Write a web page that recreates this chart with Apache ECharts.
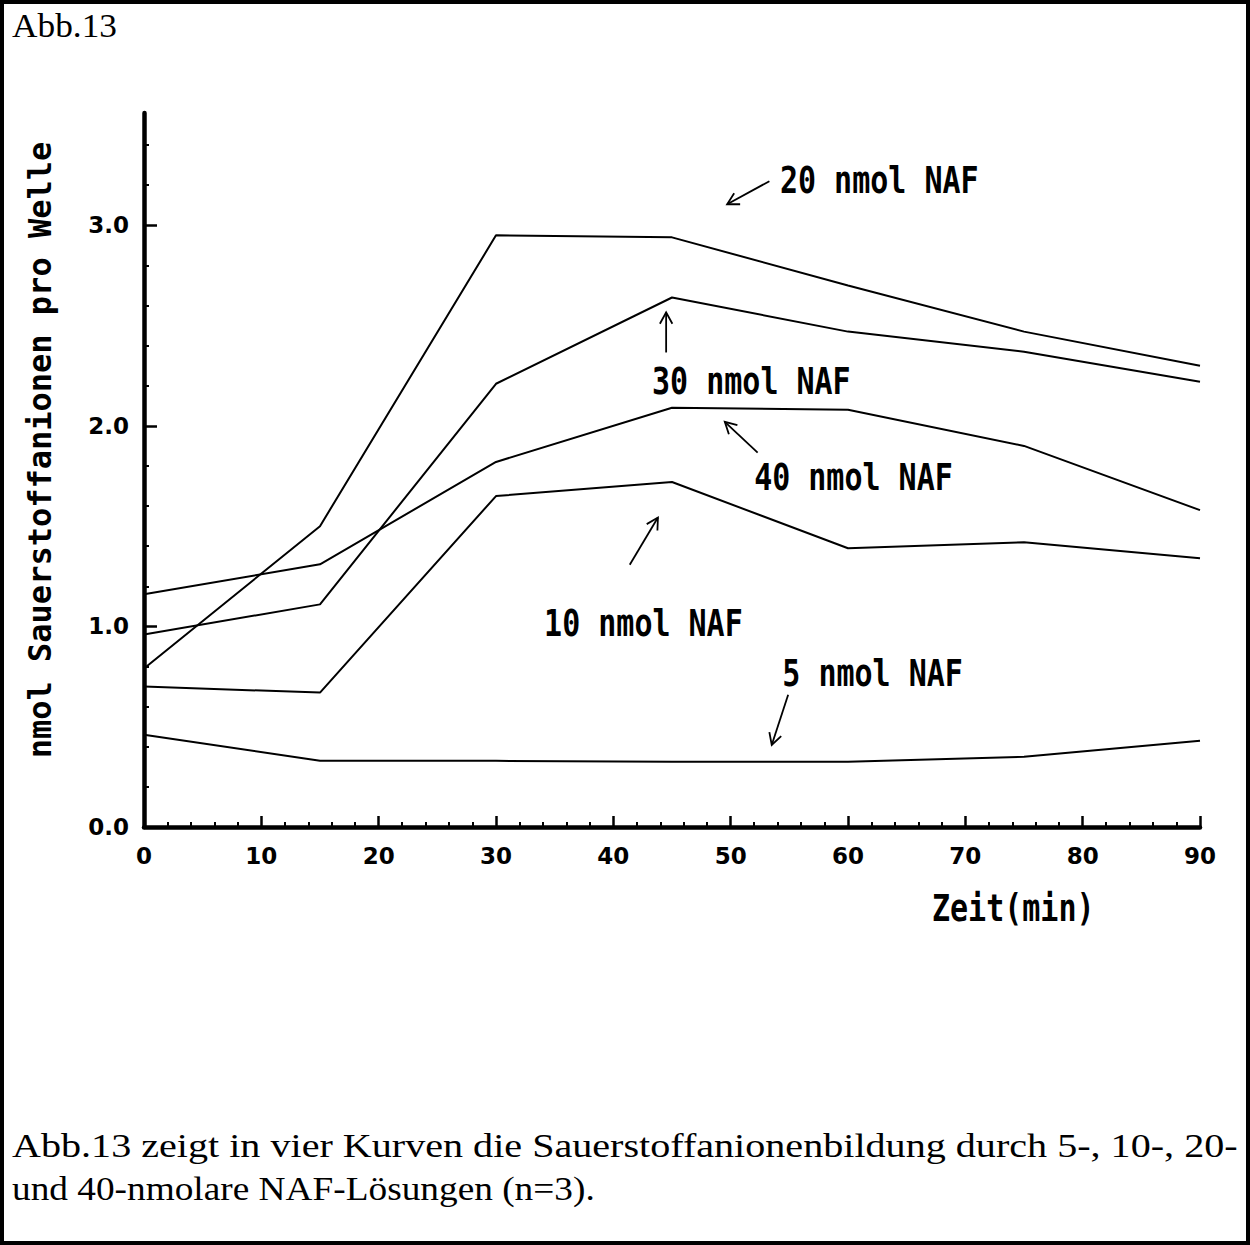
<!DOCTYPE html>
<html><head><meta charset="utf-8">
<script src="https://cdn.jsdelivr.net/npm/echarts@6/dist/echarts.min.js"></script>
<style>html,body{margin:0;padding:0;background:#fff}#c{width:1250px;height:1245px}</style>
</head><body><div id="c"></div>
<script>
// ---- data ----
const times  = [0, 15, 30, 45, 60, 75, 90];
const nmol20 = [0.79, 1.50, 2.95, 2.94, 2.70, 2.47, 2.30];
const nmol30 = [0.96, 1.11, 2.21, 2.64, 2.47, 2.37, 2.22];
const nmol40 = [1.16, 1.31, 1.82, 2.09, 2.08, 1.90, 1.58];
const nmol10 = [0.70, 0.67, 1.65, 1.72, 1.39, 1.42, 1.34];
const nmol5  = [0.46, 0.33, 0.33, 0.325, 0.325, 0.35, 0.43];
const yMajorTicks = [0, 1, 2, 3];
const seriesNames = ['20 nmol NAF', '30 nmol NAF', '40 nmol NAF', '10 nmol NAF', '5 nmol NAF'];
// annotation anchors in data coordinates (min, value)
const labelAnchors = [[54.2, 3.225], [43.3, 2.22], [52.0, 1.742], [34.1, 1.013], [54.4, 0.764]];
const arrowFrom    = [[53.3, 3.22], [44.5, 2.366], [52.3, 1.867], [41.4, 1.308], [54.9, 0.659]];
const arrowTo      = [[49.7, 3.105], [44.5, 2.566], [49.5, 2.02], [43.8, 1.543], [53.5, 0.409]];
const titleText = 'Abb.13';
const captionLines = [
  'Abb.13 zeigt in vier Kurven die Sauerstoffanionenbildung durch 5-, 10-, 20-',
  'und 40-nmolare NAF-Lösungen (n=3).'
];
const xAxisTitle = 'Zeit(min)';
const yAxisTitle = 'nmol Sauerstoffanionen pro Welle';

// ---- helpers ----
const mono = '"DejaVu Sans Mono", "Liberation Mono", monospace';
const serifFont = '33px "Liberation Serif", "Times New Roman", serif';
const ctx = document.createElement('canvas').getContext('2d');
function widthOf(text, font) { ctx.font = font; return ctx.measureText(text).width; }
const pairs = arr => times.map((t, i) => [t, arr[i]]);
const allSeries = [nmol20, nmol30, nmol40, nmol10, nmol5];

const chart = echarts.init(document.getElementById('c'), null, {renderer: 'svg'});

const captionTargets = [1226, 583];
const captionY = [1146, 1189];

chart.setOption({
  animation: false,
  backgroundColor: '#fff',
  grid: {left: 144, right: 50, top: 113, bottom: 418},
  xAxis: {
    type: 'value', min: 0, max: 90, interval: 10,
    axisLine: {lineStyle: {color: '#000', width: 4.5}},
    axisTick: {inside: true, length: 11, lineStyle: {color: '#000', width: 2.5}},
    minorTick: {show: true, splitNumber: 5, length: 5, lineStyle: {color: '#000', width: 2}},
    axisLabel: {color: '#000', fontFamily: '"DejaVu Sans"', fontWeight: 'bold', fontSize: 23, margin: 17},
    splitLine: {show: false}, minorSplitLine: {show: false}
  },
  yAxis: {
    type: 'value', min: 0, max: 3.56, interval: 1,
    axisLine: {show: true, lineStyle: {color: '#000', width: 4.5}},
    axisTick: {show: true, inside: true, length: 13, customValues: yMajorTicks, lineStyle: {color: '#000', width: 2.5}},
    minorTick: {show: true, splitNumber: 5, length: 5, lineStyle: {color: '#000', width: 2}},
    axisLabel: {color: '#000', fontFamily: '"DejaVu Sans"', fontWeight: 'bold', fontSize: 23, margin: 15,
      customValues: yMajorTicks, formatter: v => Number(v).toFixed(1)},
    splitLine: {show: false}, minorSplitLine: {show: false}
  },
  series: [
    ...allSeries.map((arr, i) => ({
      name: seriesNames[i], type: 'line', data: pairs(arr), symbol: 'none',
      lineStyle: {color: '#000', width: 2}, silent: true
    })),
    {
      type: 'custom', name: 'arrows', silent: true, clip: false,
      data: arrowFrom.map((f, i) => [f[0], f[1], arrowTo[i][0], arrowTo[i][1]]),
      renderItem(params, api) {
        const p0 = api.coord([api.value(0), api.value(1)]);
        const p1 = api.coord([api.value(2), api.value(3)]);
        const ang = Math.atan2(p1[1] - p0[1], p1[0] - p0[0]);
        const L = 13, a = 0.5;
        const h1 = [p1[0] - L * Math.cos(ang - a), p1[1] - L * Math.sin(ang - a)];
        const h2 = [p1[0] - L * Math.cos(ang + a), p1[1] - L * Math.sin(ang + a)];
        return {type: 'group', children: [
          {type: 'line', shape: {x1: p0[0], y1: p0[1], x2: p1[0], y2: p1[1]}, style: {stroke: '#000', lineWidth: 1.8}},
          {type: 'polyline', shape: {points: [h1, p1, h2]}, style: {stroke: '#000', lineWidth: 1.8, fill: null}}
        ]};
      }
    },
    {
      type: 'custom', name: 'labels', silent: true, clip: false,
      data: labelAnchors.map(a => [a[0], a[1]]),
      renderItem(params, api) {
        const p = api.coord([api.value(0), api.value(1)]);
        return {type: 'text', x: p[0], y: p[1], scaleY: 1.22,
          style: {text: seriesNames[params.dataIndex], font: 'bold 30px ' + mono, fill: '#000',
                  align: 'left', verticalAlign: 'middle'}};
      }
    }
  ],
  graphic: [
    {type: 'rect', shape: {x: 2, y: 2, width: 1246, height: 1241}, style: {fill: null, stroke: '#000', lineWidth: 4}, silent: true},
    {type: 'text', x: 12, y: 26, scaleX: 105 / widthOf(titleText, serifFont),
      style: {text: titleText, font: serifFont, fill: '#000', align: 'left', verticalAlign: 'middle'}},
    ...captionLines.map((t, i) => ({type: 'text', x: 12, y: captionY[i],
      scaleX: captionTargets[i] / widthOf(t, serifFont),
      style: {text: t, font: serifFont, fill: '#000', align: 'left', verticalAlign: 'middle'}})),
    {type: 'text', x: 932, y: 908, scaleY: 1.27,
      style: {text: xAxisTitle, font: 'bold 30px ' + mono, fill: '#000', align: 'left', verticalAlign: 'middle'}},
    {type: 'text', x: 40, y: 450, rotation: Math.PI / 2,
      style: {text: yAxisTitle, font: 'bold 32px ' + mono, fill: '#000', align: 'center', verticalAlign: 'middle'}}
  ]
});
</script>
</body></html>
